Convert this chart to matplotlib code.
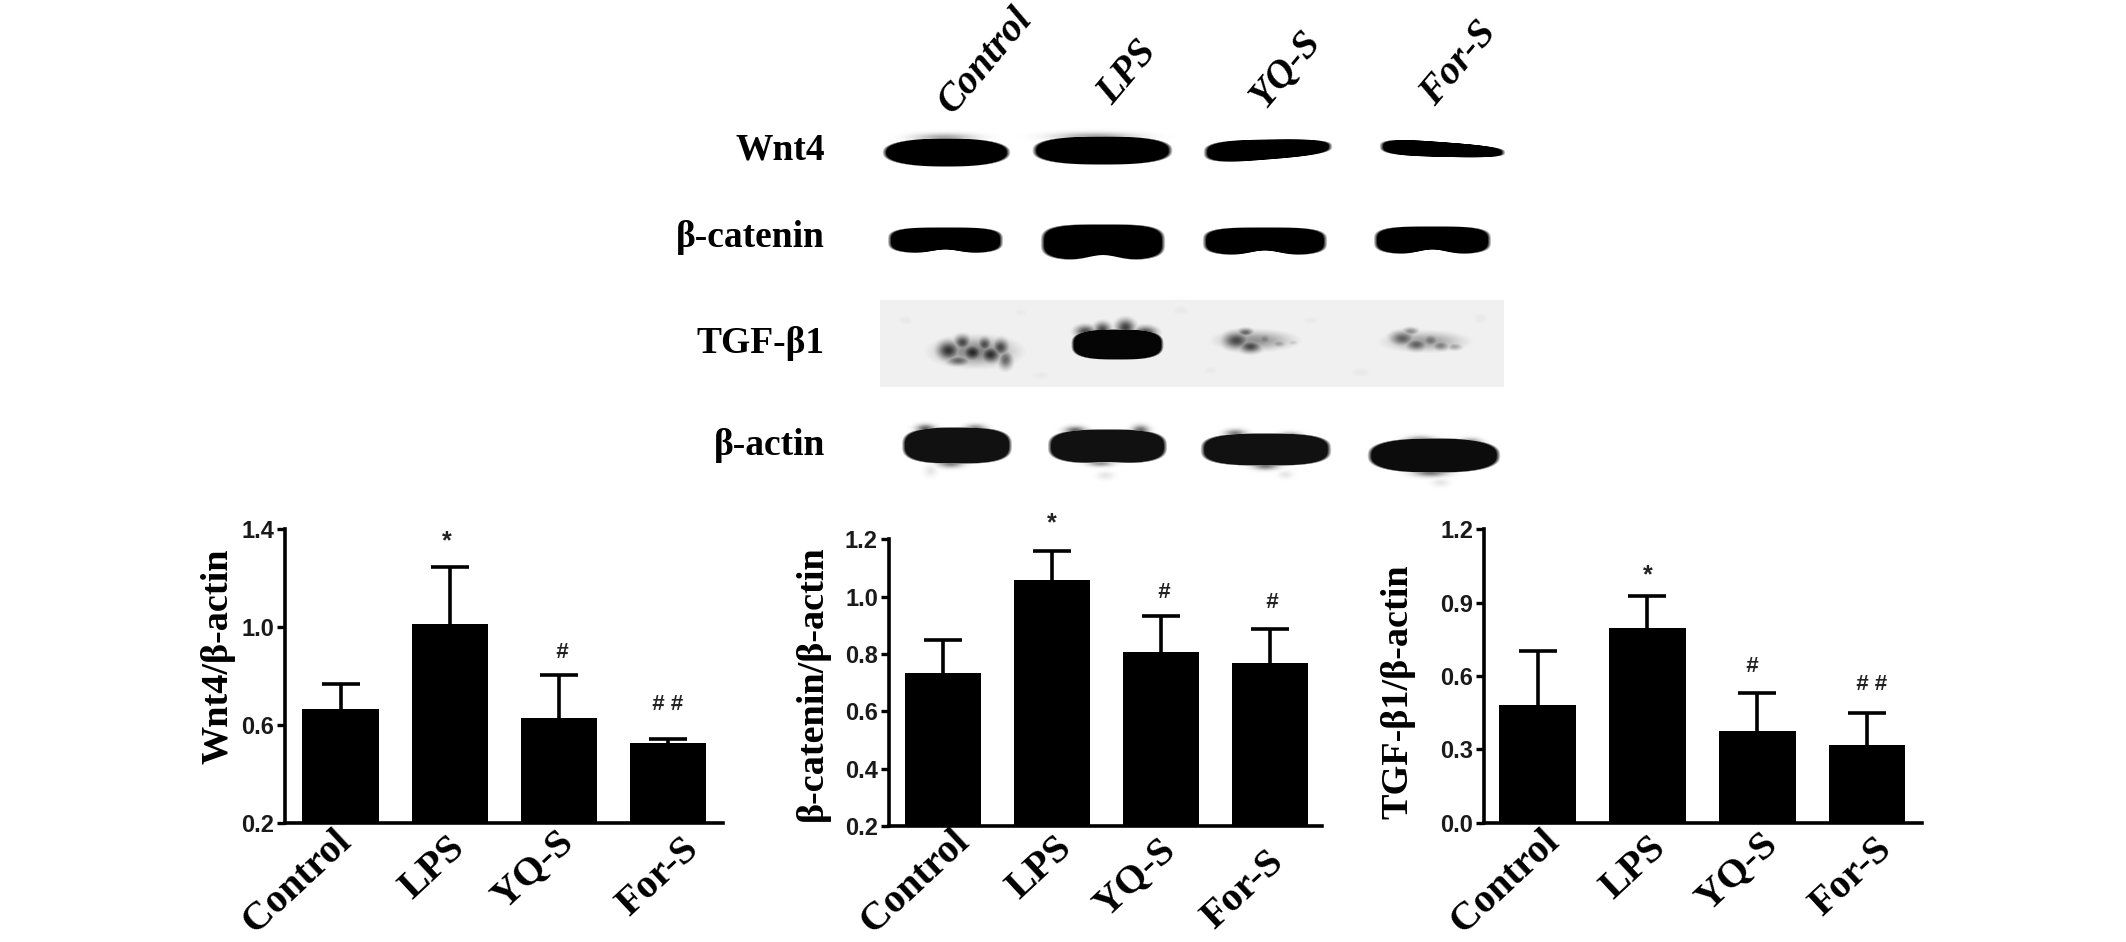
import numpy as np
import matplotlib
matplotlib.use("Agg")
import matplotlib.pyplot as plt

W, H = 2126, 942
SERIF = "Liberation Serif"
SANS = "Liberation Sans"

groups = ["Control", "LPS", "YQ-S", "For-S"]

# bar heights and top of the error bar
wnt4_vals = [0.666, 1.013, 0.627, 0.527]
wnt4_tops = [0.766, 1.247, 0.804, 0.542]
wnt4_ticks = [0.2, 0.6, 1.0, 1.4]

cat_vals = [0.735, 1.058, 0.807, 0.767]
cat_tops = [0.849, 1.159, 0.934, 0.888]
cat_ticks = [0.2, 0.4, 0.6, 0.8, 1.0, 1.2]

tgf_vals = [0.480, 0.796, 0.374, 0.319]
tgf_tops = [0.702, 0.926, 0.529, 0.450]
tgf_ticks = [0.0, 0.3, 0.6, 0.9, 1.2]

# blot bands: x0, x1, y left, y right, half height left, half height right, waist, darkness, end roundness
solid_bands = [
    (884, 1008, 152, 152, 14, 14, 0.00, 1.0, 2.4),
    (1034, 1170, 150, 150, 14, 14, 0.00, 1.0, 2.6),
    (1205, 1330, 152, 146, 12, 8, 0.00, 1.0, 3.0),
    (1381, 1503, 146, 152, 9, 6, 0.00, 1.0, 3.0),
    (889, 1001, 240, 240, 13, 13, 0.30, 1.0, 3.5),
    (1042, 1163, 242, 242, 18, 18, 0.30, 1.0, 3.5),
    (1204, 1325, 241, 241, 14, 14, 0.35, 1.0, 3.5),
    (1375, 1489, 240, 240, 14, 14, 0.35, 1.0, 3.5),
    (903, 1010, 445, 445, 18, 18, 0.00, 0.93, 3.0),
    (1049, 1165, 446, 446, 17, 17, 0.08, 0.93, 3.0),
    (1202, 1329, 449, 449, 16, 16, 0.00, 0.93, 3.0),
    (1369, 1498, 455, 455, 17, 17, 0.00, 0.95, 2.6),
    (1072, 1162, 344, 344, 15, 15, 0.00, 0.98, 3.0),
]
# smudges and speckle: x, y, radius x, radius y, darkness
soft_spots = [
    (944, 137, 28, 4, 0.35), (1095, 136, 38, 4, 0.35),
    # broad haze under the speckled TGF-b1 bands
    (975, 351, 36, 13, 0.5), (1255, 340, 34, 9, 0.42), (1425, 341, 36, 9, 0.38),
    (948, 350, 11, 9, 0.8), (962, 342, 8, 7, 0.72), (972, 352, 10, 8, 0.85), (984, 344, 7, 7, 0.7),
    (990, 354, 10, 8, 0.82), (1000, 347, 8, 8, 0.72), (1005, 359, 7, 9, 0.6), (958, 360, 12, 5, 0.6),
    (1085, 331, 10, 6, 0.7), (1102, 329, 8, 7, 0.72), (1125, 327, 9, 8, 0.75), (1145, 332, 11, 6, 0.72),
    (1236, 340, 13, 8, 0.72), (1250, 346, 11, 6, 0.72), (1245, 332, 8, 4, 0.6), (1264, 339, 8, 6, 0.5),
    (1278, 343, 8, 4, 0.38), (1292, 342, 6, 3, 0.22),
    (1402, 338, 12, 7, 0.62), (1416, 344, 11, 6, 0.62), (1430, 340, 9, 6, 0.55), (1440, 345, 9, 5, 0.5),
    (1454, 346, 8, 4, 0.35), (1410, 331, 8, 4, 0.45),
    # mottling of the film
    (905, 320, 12, 8, 0.09), (1040, 375, 16, 7, 0.09), (1180, 310, 14, 8, 0.09), (1360, 372, 16, 8, 0.09),
    (1480, 318, 12, 9, 0.09), (1310, 320, 14, 7, 0.085), (1020, 312, 12, 7, 0.085), (1210, 370, 12, 7, 0.085),
    # rough edges of the actin row
    (925, 428, 9, 4, 0.6), (975, 428, 10, 4, 0.5), (1075, 430, 10, 4, 0.6), (1140, 430, 8, 5, 0.6),
    (1235, 433, 10, 4, 0.5), (1290, 436, 10, 4, 0.5), (1420, 440, 14, 4, 0.5), (1470, 442, 10, 4, 0.5),
    (950, 463, 12, 4, 0.5), (1100, 463, 12, 3, 0.4), (1265, 465, 12, 4, 0.55), (1430, 472, 16, 4, 0.55),
    (930, 470, 6, 6, 0.1), (1105, 475, 8, 4, 0.1), (1285, 474, 7, 4, 0.1), (1440, 482, 8, 4, 0.1),
]


def draw_blot(ax):
    xs, ys = np.meshgrid(np.arange(870, 1520), np.arange(125, 490))
    dark = np.zeros(xs.shape)

    # grey film behind the TGF-b1 row
    film = (np.abs(xs - 1191.5) < 312) & (np.abs(ys - 343) < 44)
    dark[film] = 0.06

    for x0, x1, yl, yr, hl, hr, waist, level, p in solid_bands:
        t = (xs - (x0 + x1) / 2) / ((x1 - x0) / 2)
        frac = (t + 1) / 2
        yc = yl + (yr - yl) * frac
        hh = hl + (hr - hl) * frac
        hh = np.where(ys > yc, hh * (1 - waist * np.exp(-(t / 0.35) ** 2)), hh)
        d = (np.abs(t) ** p + np.abs((ys - yc) / hh) ** p) ** (1 / p)
        dark = np.maximum(dark, level * np.clip((1 - d) / 0.07 + 0.5, 0, 1))

    for x, y, rx, ry, level in soft_spots:
        blob = level * np.exp(-(((xs - x) / rx) ** 2 + ((ys - y) / ry) ** 2))
        dark = np.maximum(dark, blob)

    ax.imshow(1 - dark, cmap="gray", vmin=0, vmax=1, aspect="auto",
              extent=(870, 1520, 490, 125), interpolation="bilinear")


def draw_panel(fig, box, xlim, ylim, ticks, fmt, vals, tops):
    left, right, top, bottom = box
    ax = fig.add_axes([left / W, 1 - bottom / H, (right - left) / W, (bottom - top) / H])
    pos = np.arange(len(vals))
    ax.bar(pos, vals, width=0.7, color="black", bottom=0)
    errs = [t - v for t, v in zip(tops, vals)]
    eb = ax.errorbar(pos, vals, yerr=[np.zeros(len(vals)), errs], fmt="none", ecolor="black",
                     elinewidth=2.6, capsize=13.5, capthick=2.6)
    eb[1][0].set_visible(False)
    ax.set_xlim(*xlim)
    ax.set_ylim(*ylim)
    ax.set_xticks([])
    ax.set_yticks(ticks)
    ax.set_yticklabels([fmt % t for t in ticks], fontfamily=SANS, fontweight="bold",
                       fontsize=17, color="#1a1a1a")
    ax.tick_params(axis="y", length=6, width=2.4, pad=2)
    for side in ("top", "right"):
        ax.spines[side].set_visible(False)
    for side in ("left", "bottom"):
        ax.spines[side].set_linewidth(2.6)
    ax.patch.set_alpha(0)
    return ax


fig = plt.figure(figsize=(W / 100, H / 100), dpi=100, facecolor="white")

over = fig.add_axes([0, 0, 1, 1])
draw_blot(over)
over.set_xlim(0, W)
over.set_ylim(H, 0)
over.axis("off")

draw_panel(fig, (285, 722.7, 529.3, 822.7), (-0.51, 3.5), (0.2, 1.4), wnt4_ticks, "%.1f", wnt4_vals, wnt4_tops)
draw_panel(fig, (889, 1321.5, 539.3, 826), (-0.495, 3.47), (0.2, 1.2), cat_ticks, "%.1f", cat_vals, cat_tops)
draw_panel(fig, (1484.4, 1921.8, 529.3, 822.7), (-0.486, 3.5), (0.0, 1.2), tgf_ticks, "%.1f", tgf_vals, tgf_tops)

# blot row names
for label, y in [("Wnt4", 160), ("β-catenin", 247), ("TGF-β1", 353), ("β-actin", 455)]:
    over.text(825, y, label, family=SERIF, weight="bold", fontsize=27, ha="right", va="baseline")

# lane names above the blot
for label, x, y in zip(groups, [986, 1128, 1286, 1459], [61, 73, 69, 64]):
    over.text(x, y, label, family=SERIF, weight="bold", style="italic", fontsize=28.5,
              rotation=50, ha="center", va="center", rotation_mode="anchor")

# group names under the bar panels
under_x = [[297, 433, 533, 658], [915, 1040, 1135, 1243], [1505, 1634, 1737, 1851]]
under_y = [[882, 868, 870, 877], [882, 868, 878, 890], [882, 868, 872, 877]]
for xs, ys in zip(under_x, under_y):
    for label, x, y in zip(groups, xs, ys):
        over.text(x, y, label, family=SERIF, weight="bold", fontsize=29,
                  rotation=43, ha="center", va="center", rotation_mode="anchor")

# y axis titles
for label, x, y in [("Wnt4/β-actin", 218, 656), ("β-catenin/β-actin", 812, 683), ("TGF-β1/β-actin", 1398, 692)]:
    over.text(x, y, label, family=SERIF, weight="bold", fontsize=27.5, rotation=90, ha="center", va="center")

# significance marks
marks = [("*", 447, 541), ("#", 561.5, 653), ("# #", 667, 705),
         ("*", 1052, 523), ("#", 1163.5, 592), ("#", 1271, 602),
         ("*", 1648, 575), ("#", 1751, 666), ("# #", 1871, 684)]
for label, x, y in marks:
    star = label == "*"
    over.text(x, y, label, family=SANS, weight="bold", fontsize=18 if star else 16,
              style="normal" if star else "italic", color="#222222", ha="center", va="center")

fig.savefig("out.png", dpi=100)
plt.close(fig)
